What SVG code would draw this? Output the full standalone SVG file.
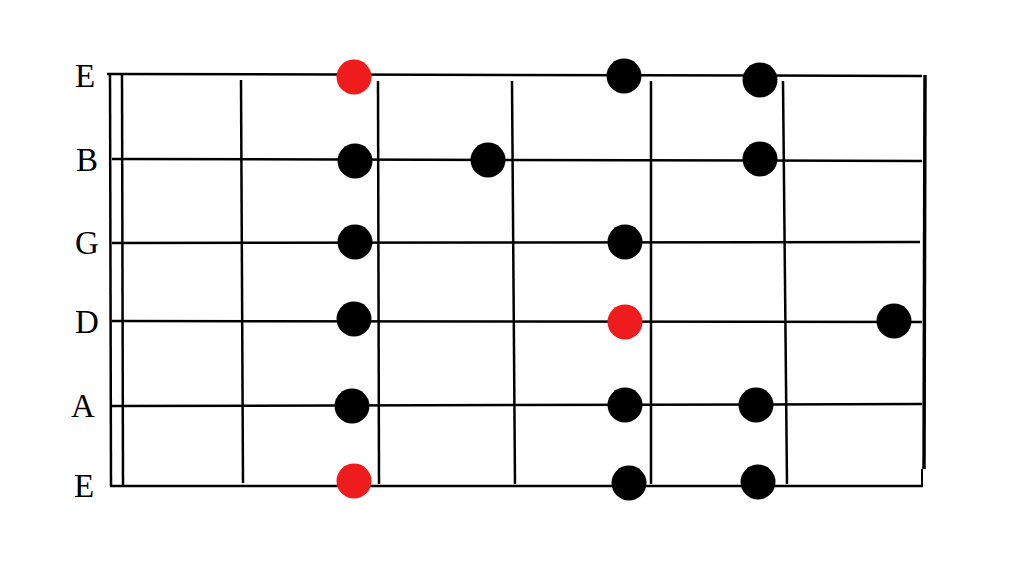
<svg xmlns="http://www.w3.org/2000/svg" width="1024" height="576" viewBox="0 0 1024 576">
<style>
.s{stroke:#000;stroke-width:2.5;fill:none}
.f{stroke:#000;stroke-width:2.5;fill:none}
.lbl{font-family:"Liberation Serif",serif;font-size:33px;fill:#000;text-anchor:middle}
.b{fill:#000}
.r{fill:#ee1c1c}
</style>
<rect width="1024" height="576" fill="#fff"/>
<g id="labels">
<text class="lbl" x="85" y="87">E</text>
<text class="lbl" x="87" y="171">B</text>
<text class="lbl" x="87" y="254">G</text>
<text class="lbl" x="87" y="333">D</text>
<text class="lbl" x="83" y="417">A</text>
<text class="lbl" x="84" y="497">E</text>
</g>
<g id="connectors">
<line class="s" x1="107" y1="74" x2="922" y2="76"/>
<line class="s" x1="112" y1="159" x2="922" y2="161"/>
<line class="s" x1="112" y1="243" x2="920" y2="242"/>
<line class="s" x1="112" y1="321" x2="922" y2="322"/>
<line class="s" x1="112" y1="406" x2="922" y2="404"/>
<line class="s" x1="110" y1="486" x2="923" y2="486"/>
<line class="f" x1="110" y1="74" x2="111" y2="486"/>
<line class="f" x1="122" y1="74" x2="123" y2="486"/>
<line class="f" x1="241" y1="80" x2="243" y2="483"/>
<line class="f" x1="378" y1="81" x2="379" y2="484"/>
<line class="f" x1="512" y1="81" x2="515" y2="484"/>
<line class="f" x1="651" y1="81" x2="651" y2="484"/>
<line class="f" x1="783" y1="81" x2="787" y2="484"/>
<line x1="925" y1="75" x2="924" y2="469" stroke="#000" stroke-width="3.5"/>
<line x1="922" y1="469" x2="922" y2="486" stroke="#000" stroke-width="2"/>
</g>
<g id="dots">
<circle class="r" cx="354" cy="77" r="17.5"/>
<circle class="b" cx="624" cy="76" r="17.5"/>
<circle class="b" cx="760" cy="80" r="17.5"/>
<circle class="b" cx="355" cy="161" r="17.5"/>
<circle class="b" cx="488" cy="160" r="17.5"/>
<circle class="b" cx="760" cy="159" r="17.5"/>
<circle class="b" cx="355" cy="242" r="17.5"/>
<circle class="b" cx="625" cy="242" r="17.5"/>
<circle class="b" cx="354" cy="319" r="17.5"/>
<circle class="r" cx="625" cy="322" r="17.5"/>
<circle class="b" cx="894" cy="321" r="17.5"/>
<circle class="b" cx="352" cy="406" r="17.5"/>
<circle class="b" cx="625" cy="405" r="17.5"/>
<circle class="b" cx="756" cy="405" r="17.5"/>
<circle class="r" cx="354" cy="481" r="17.5"/>
<circle class="b" cx="629" cy="483" r="17.5"/>
<circle class="b" cx="758" cy="482" r="17.5"/>
</g>
</svg>
